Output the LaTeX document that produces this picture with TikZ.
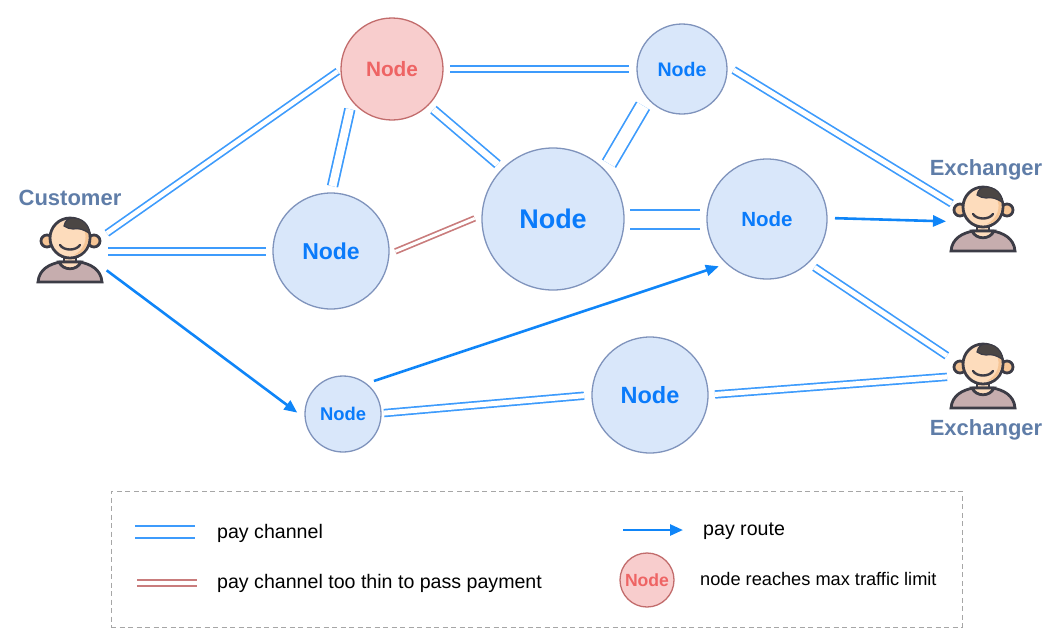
\documentclass[tikz,border=0pt]{standalone}
\usepackage{fontspec}
\setmainfont{Liberation Sans}
\usetikzlibrary{arrows.meta}
\definecolor{chblue}{HTML}{3D9BFC}
\definecolor{routeblue}{HTML}{0F85F8}
\definecolor{nodefill}{HTML}{D9E7FA}
\definecolor{nodeline}{HTML}{7F93BC}
\definecolor{nodetext}{HTML}{0A7BFA}
\definecolor{redfill}{HTML}{F8CDCD}
\definecolor{redline}{HTML}{C26C6C}
\definecolor{redtext}{HTML}{EE6464}
\definecolor{thinred}{HTML}{C97C7C}
\definecolor{labelblue}{HTML}{5F7DA8}
\definecolor{skin}{HTML}{FDDCBC}
\definecolor{skinshade}{HTML}{F6C595}
\definecolor{outl}{HTML}{3C3C46}
\definecolor{hair}{HTML}{4B4644}
\definecolor{shirt}{HTML}{C6ADAE}
\newcommand{\fs}[1]{\fontsize{#1}{#1}\selectfont}
\tikzset{
  netnode/.style={circle,draw=nodeline,fill=nodefill,line width=1.3pt,inner sep=0pt,outer sep=0pt,
     text=nodetext,font=\bfseries\fs{#1}},
  maxnode/.style={circle,draw=redline,fill=redfill,line width=1.3pt,inner sep=0pt,outer sep=0pt,
     text=redtext,font=\bfseries\fs{#1}},
  spot/.style={circle,minimum size=76pt,inner sep=0pt,outer sep=0pt},
  channel/.style={draw=chblue,double=white,line width=1.7pt,double distance=#1},
  channel/.default=4.5pt,
  flatchannel/.style={draw=chblue,line width=2pt},
  thinchannel/.style={draw=thinred,double=white,line width=1.7pt,double distance=#1},
  thinchannel/.default=3pt,
  route/.style={draw=routeblue,line width=2.6pt,-{Triangle[length=13pt,width=11pt]}},
  who/.style={anchor=base,text=labelblue,inner sep=0pt,font=\bfseries\fs{22}},
  legendtext/.style={anchor=base west,text=black,inner sep=0pt,font=\fs{#1}},
  person/.pic={
    \begin{scope}[shift={(0,-13)},draw=outl,line width=2.8pt]
      \filldraw[fill=skin] (-6,15) rectangle (6,25);
      \filldraw[fill=shirt] (-32,44) .. controls (-31,31) and (-20,26) .. (-10,24) -- (10,24)
         .. controls (20,26) and (31,31) .. (32,44) -- cycle;
      \filldraw[fill=skin] (-11,24) .. controls (-7,33) and (7,33) .. (11,24) -- cycle;
      \filldraw[fill=skinshade] (-23,3) circle[radius=6];
      \filldraw[fill=skinshade] (24,3) circle[radius=6];
      \filldraw[fill=skin] (0,0) circle[radius=20];
      \fill[skinshade] (13,-10) .. controls (19,0) and (14,12) .. (4,17) .. controls (14,16) and (19,8) .. (18.5,-5) -- cycle;
      \filldraw[fill=hair,line width=1.2pt] (-6,-12) .. controls (-5,-18) and (-1,-20) .. (3,-20)
         .. controls (12,-20) and (19,-14) .. (20,-4) .. controls (14,-9) and (8,-10) .. (3,-9)
         .. controls (0,-9) and (-3,-10) .. (-6,-12) -- cycle;
      \draw[line width=2.4pt,line cap=round] (-10,7) .. controls (-6,13) and (6,13) .. (10,7);
    \end{scope}
  }
}
\begin{document}
\begin{tikzpicture}[x=1pt,y=-1pt]
\useasboundingbox (0,0) rectangle (1064,641);

% network nodes
\node[maxnode=20.8,minimum size=102pt] (red) at (392,69) {Node};
\node[netnode=19.6,minimum size=90pt] (topright) at (682,69) {Node};
\node[netnode=27,minimum size=142pt] (center) at (553,219) {Node};
\node[netnode=20.5,minimum size=120pt] (right) at (767,219) {Node};
\node[netnode=23,minimum size=116pt] (left) at (331,251) {Node};
\node[netnode=18.4,minimum size=76pt] (small) at (343,414) {Node};
\node[netnode=23.5,minimum size=116pt] (mid) at (650,395) {Node};

% people
\node[spot] (cust) at (70,251) {};
\node[spot] (exone) at (983,220) {};
\node[spot] (extwo) at (983,377) {};
\pic at (cust) {person};
\pic at (exone) {person};
\pic at (extwo) {person};
\node[who] (custlabel) at (70,205) {Customer};
\node[who] (exonelabel) at (986,175) {Exchanger};
\node[who] (extwolabel) at (986,435) {Exchanger};

% channels
\draw[channel,shorten <=3pt,shorten >=4pt] (cust.25) -- (red.west);
\draw[flatchannel] ([yshift=-3.5pt]cust.0) -- ([xshift=-7pt,yshift=-3.5pt]left.west);
\draw[flatchannel] ([yshift=3.5pt]cust.0) -- ([xshift=-7pt,yshift=3.5pt]left.west);
\draw[flatchannel,shorten <=7pt,shorten >=8pt] ([yshift=-3pt]red.east) -- ([yshift=-3pt]topright.west);
\draw[flatchannel,shorten <=7pt,shorten >=8pt] ([yshift=3pt]red.east) -- ([yshift=3pt]topright.west);
\draw[channel=8pt,shorten <=9pt,shorten >=7pt] (red.218) -- (left.north);
\draw[channel=6.5pt,shorten <=7pt,shorten >=7pt] (red.-45) -- (center.135);
\draw[thinchannel,shorten <=7pt,shorten >=8pt] (left.-3) -- (center.177);
\draw[channel=13pt,shorten <=9pt,shorten >=8pt] (topright.220) -- (center.43);
\draw[channel=5pt,shorten <=8pt,shorten >=-2.5pt] (topright.4) -- (exone.152);
\draw[flatchannel,shorten <=6pt,shorten >=7pt] ([yshift=-10pt]center.east) -- ([yshift=-10pt]right.west);
\draw[flatchannel,shorten <=6pt,shorten >=7pt] ([yshift=9pt]center.east) -- ([yshift=9pt]right.west);
\draw[channel=5pt,shorten <=8pt,shorten >=4pt] (right.-47) -- (extwo.150);
\draw[channel=5pt,shorten <=3pt,shorten >=8pt] (small.1) -- (mid.west);
\draw[channel=5pt,shorten <=7pt,shorten >=-2pt] (mid.east) -- (extwo.west);

% routes
\draw[route,shorten <=3.5pt,shorten >=10pt] (cust.-27) -- (small.187);
\draw[route,shorten <=8.5pt,shorten >=8.5pt] (small.53) -- (right.228);
\draw[route,shorten <=8pt,shorten >=-1pt] (right.1) -- (exone.182);

% legend
\node[draw=black!35,dash pattern=on 5pt off 3.5pt,line width=1pt,inner sep=0pt,minimum width=851pt,minimum height=136pt] (legendbox) at (536.5,559) {};
\coordinate (la) at (135,525.5); \coordinate (lb) at (195,525.5);
\coordinate (lg) at (135,537.5); \coordinate (lh) at (195,537.5);
\coordinate (lc) at (137,580); \coordinate (ld) at (197,580);
\coordinate (li) at (137,586); \coordinate (lj) at (197,586);
\coordinate (le) at (623,530); \coordinate (lf) at (683,530);
\draw[flatchannel] (la) -- (lb);
\draw[flatchannel] (lg) -- (lh);
\draw[flatchannel,draw=thinred] (lc) -- (ld);
\draw[flatchannel,draw=thinred] (li) -- (lj);
\draw[route] (le) -- (lf);
\node[maxnode=17.6,minimum size=54pt] (legendred) at (647,580) {Node};
\node[legendtext=19.6] (t1) at (217,538) {pay channel};
\node[legendtext=19.6] (t2) at (217,588) {pay channel too thin to pass payment};
\node[legendtext=19.6] (t3) at (703,535) {pay route};
\node[legendtext=18.2] (t4) at (700,585) {node reaches max traffic limit};
\end{tikzpicture}
\end{document}
